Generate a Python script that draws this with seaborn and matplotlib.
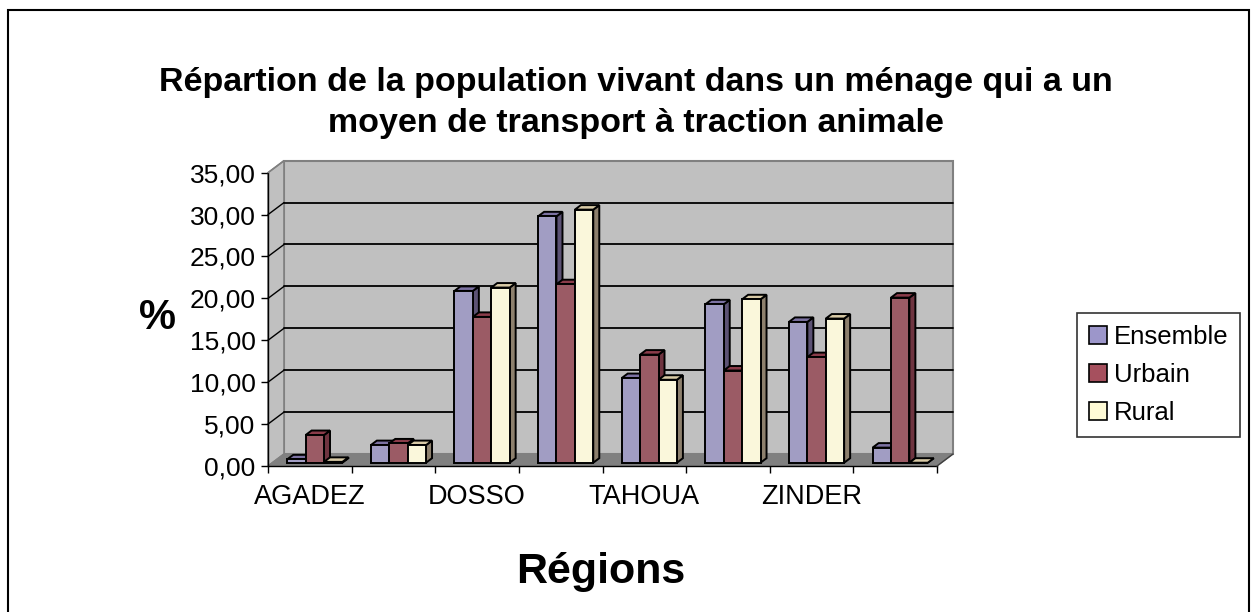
import numpy as np
import pandas as pd
import matplotlib
matplotlib.use("Agg")
import matplotlib.pyplot as plt
import matplotlib.transforms as mtransforms
from matplotlib.patches import Polygon, Rectangle
from matplotlib.lines import Line2D
import seaborn as sns

# ---------------- data ----------------
regions = ["AGADEZ", "DIFFA", "DOSSO", "MARADI", "TAHOUA", "TILLABERI", "ZINDER", "NIAMEY"]
series = ["Ensemble", "Urbain", "Rural"]
ensemble = [0.4, 2.1, 20.5, 29.4, 10.1, 18.9, 16.8, 1.8]
urbain = [3.3, 2.3, 17.4, 21.3, 12.9, 11.0, 12.6, 19.7]
rural = [0.1, 2.1, 20.9, 30.2, 9.9, 19.5, 17.2, 0.0]
yticks = [0, 5, 10, 15, 20, 25, 30, 35]
title = "Répartion de la population vivant dans un ménage qui a un\nmoyen de transport à traction animale"
xlabel = "Régions"
ylabel = "%"

front_colors = ["#9c96ca", "#a6505e", "#fffbd6"]
top_colors = ["#7c72a2", "#8a3c4a", "#d8caa6"]
side_colors = ["#5c5274", "#6f3440", "#8d806d"]

df = pd.DataFrame({
    "Région": regions * 3,
    "Série": sum([[s] * len(regions) for s in series], []),
    "Valeur": ensemble + urbain + rural,
})

sns.set_theme(style="white")
plt.rcParams["font.family"] = ["Liberation Sans", "DejaVu Sans"]
plt.rcParams["text.color"] = "black"
plt.rcParams["axes.labelcolor"] = "black"
plt.rcParams["xtick.color"] = "black"
plt.rcParams["ytick.color"] = "black"

W, H, DPI = 1253, 612, 100
fig = plt.figure(figsize=(W / DPI, H / DPI), dpi=DPI)
fig.patch.set_facecolor("white")

# front plane of the 3D box (pixels)
L, R, B, T = 268, 937, 466, 172.7
ax = fig.add_axes([L / W, 1 - B / H, (R - L) / W, (B - T) / H])
ax.set_facecolor("none")

sns.barplot(data=df, x="Région", y="Valeur", hue="Série", order=regions,
            hue_order=series, palette=front_colors, width=0.66, gap=0,
            edgecolor="black", linewidth=1.4, legend=False, ax=ax, zorder=5)

ax.set_xlim(-0.5, len(regions) - 0.5)
ax.set_ylim(0, 35)

px = lambda dx, dy: mtransforms.ScaledTranslation(dx / DPI, dy / DPI, fig.dpi_scale_trans)
back = ax.transData + px(16, 12)
td = ax.transData
x0, x1 = -0.5, len(regions) - 0.5

# back wall
ax.add_patch(Polygon([[x0, 0], [x0, 35], [x1, 35], [x1, 0]], closed=True,
                     transform=back, facecolor="#c0c0c0", edgecolor="#808080",
                     linewidth=1.5, zorder=0, clip_on=False))
# left wall
pts_front_top = td.transform((x0, 35)); pts_front_bot = td.transform((x0, 0))
pts_back_top = back.transform((x0, 35)); pts_back_bot = back.transform((x0, 0))
ax.add_patch(Polygon([pts_front_bot, pts_front_top, pts_back_top, pts_back_bot],
                     closed=True, transform=None, facecolor="#c0c0c0",
                     edgecolor="#808080", linewidth=1.2, zorder=0.5, clip_on=False))
# floor
fb = [td.transform((x0, 0)), td.transform((x1, 0)), back.transform((x1, 0)), back.transform((x0, 0))]
ax.add_patch(Polygon(fb, closed=True, transform=None, facecolor="#808080",
                     edgecolor="#808080", linewidth=1, zorder=1, clip_on=False))
# gridlines on back wall + diagonals on left wall
for v in yticks[1:-1]:
    ax.plot([x0, x1], [v, v], color="black", linewidth=1.3, transform=back, zorder=0.8, clip_on=False)
for v in yticks[1:]:
    a = td.transform((x0, v)); b = back.transform((x0, v))
    fig.add_artist(Line2D([a[0] / W, b[0] / W], [a[1] / H, b[1] / H],
                          color="black" if v < 35 else "#808080", linewidth=1.0, zorder=0.9))
# right floor edge
a = td.transform((x1, 0)); b = back.transform((x1, 0))
fig.add_artist(Line2D([a[0] / W, b[0] / W], [a[1] / H, b[1] / H], color="#404040", linewidth=1.0))

# 3D bars: shift into the box, add side and top faces
shift = px(5, 3.3)
dpx, dpy = 6, 4.5
bars = []
for si, cont in enumerate(ax.containers):
    for p in cont.patches:
        bars.append((p.get_x(), si, p))
bars.sort(key=lambda t: t[0])
for k, (_, si, p) in enumerate(bars):
    p.set_transform(td + shift)
    p.set_clip_on(False)
    base_z = 5 + 2 * k
    p.set_zorder(base_z + 1)
    xa, w, h = p.get_x(), p.get_width(), p.get_height()
    tr = td + shift
    c1 = tr.transform((xa + w, 0))
    c2 = tr.transform((xa + w, h)); c3 = tr.transform((xa, h))
    d = np.array([dpx, dpy])
    side = Polygon([c1, c1 + d, c2 + d, c2], closed=True, transform=None,
                   facecolor=side_colors[si], edgecolor="black", linewidth=1.4,
                   zorder=base_z, clip_on=False)
    top = Polygon([c3, c2, c2 + d, c3 + d], closed=True, transform=None,
                  facecolor=top_colors[si], edgecolor="black", linewidth=1.4,
                  zorder=base_z, clip_on=False)
    ax.add_patch(side)
    ax.add_patch(top)

# axes styling
for s in ["top", "right"]:
    ax.spines[s].set_visible(False)
for s in ["left", "bottom"]:
    ax.spines[s].set_color("black")
    ax.spines[s].set_linewidth(1.0)
    ax.spines[s].set_zorder(50)

ax.set_yticks(yticks)
ax.set_yticklabels([f"{v:.2f}".replace(".", ",") for v in yticks], fontsize=19)
ax.tick_params(axis="y", direction="out", length=5, width=1, color="black", pad=4, left=True)
ax.set_xticks(range(len(regions)))
ax.set_xticklabels([r if i % 2 == 0 else "" for i, r in enumerate(regions)], fontsize=19.5)
ax.set_xticks(np.arange(-0.5, len(regions)), minor=True)
ax.tick_params(axis="x", which="major", length=0, pad=13)
ax.tick_params(axis="x", which="minor", direction="out", length=5, width=1, color="black", bottom=True)
ax.grid(False)

ax.set_xlabel(xlabel, fontsize=31, fontweight="bold")
ax.xaxis.set_label_coords((601 - L) / (R - L), -(552 - B) / (B - T), transform=ax.transAxes)
ax.set_ylabel(ylabel, fontsize=30, fontweight="bold", rotation=0, va="center", ha="center")
ax.yaxis.set_label_coords((158 - L) / (R - L), (B - 318) / (B - T), transform=ax.transAxes)

fig.text(636 / W, 1 - 103 / H, title, ha="center", va="center", fontsize=24.5,
         fontweight="bold", linespacing=1.45)

handles = [Line2D([0], [0], marker="s", linestyle="none", markersize=13,
                  markerfacecolor=c, markeredgecolor="black", markeredgewidth=1.2)
           for c in front_colors]
leg = fig.legend(handles, series, loc="center left",
                 bbox_to_anchor=(1077 / W, 1 - 375 / H), fontsize=18.5,
                 frameon=True, fancybox=False, edgecolor="black",
                 handlelength=0.75, handletextpad=0.25, borderpad=0.45,
                 labelspacing=0.55, borderaxespad=0)
leg.get_frame().set_linewidth(1.2)

# outer border
fig.add_artist(Rectangle((8 / W, 1 - 616 / H), (1249 - 8) / W, (616 - 10) / H,
                         transform=fig.transFigure, fill=False, edgecolor="black",
                         linewidth=1.5))

fig.savefig("out.png", dpi=DPI)
